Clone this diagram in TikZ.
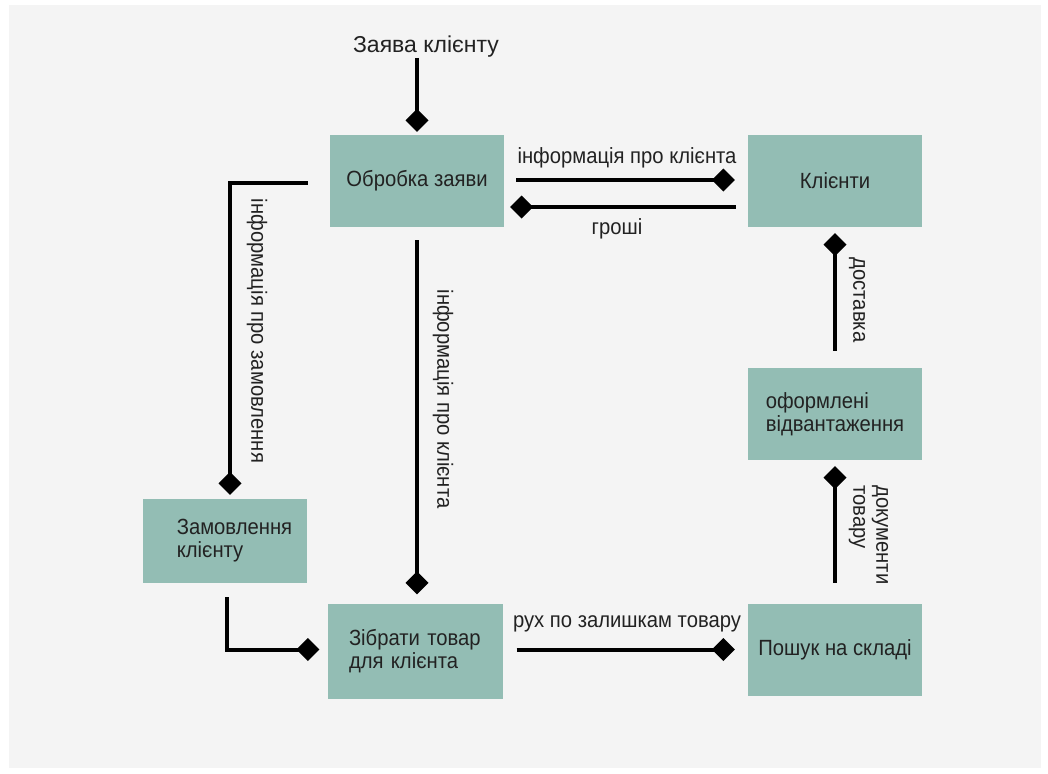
\documentclass[tikz,border=0pt]{standalone}
\usepackage{fontspec}
\setmainfont{Liberation Sans}[FakeStretch=0.92]
\newfontfamily\headfont{Liberation Sans}
\usetikzlibrary{arrows.meta,calc}

\definecolor{boxfill}{RGB}{147,189,180}
\definecolor{pagegray}{RGB}{244,244,244}
\definecolor{inkdark}{RGB}{34,34,34}

\begin{document}
\begin{tikzpicture}[x=1pt,y=-1pt,
  every node/.style={font=\fontsize{22}{23}\selectfont, text=inkdark},
  block/.style={fill=boxfill, draw=none, minimum width=174pt, minimum height=92pt, inner sep=0pt},
  lbl/.style={inner sep=0pt},
  flow/.style={line width=4pt, draw=black, -{Diamond[length=23pt,width=23pt]}}
]
% page background
\useasboundingbox (0,0) rectangle (1048,773);
\fill[white] (0,0) rectangle (1048,773);
\fill[pagegray] (9,5) rectangle (1041,768);

% process blocks
\node[block] (obr) at (417,181) {Обробка заяви};
\node[block] (kl) at (835,181) {Клієнти};
\node[block, align=left] (oform) at (835,414) {оформлені\\відвантаження};
\node[block] (posh) at (835,650) {Пошук на складі};
\node[block, minimum width=164pt, minimum height=84pt, align=left] (zam) at (225,541)
  {\hspace*{19pt}Замовлення\\\hspace*{19pt}клієнту};
\node[block, minimum width=175pt, minimum height=95pt, align=left, text width=132pt] (zib) at (415,651.5) {Зібрати товар\\для клієнта};

% incoming request
\node[lbl, font=\headfont\fontsize{23}{24}\selectfont] (zayava) at (426,47) {Заява клієнту};
\coordinate (zstart) at (417,58);

% connectors
\draw[flow] (zstart) -- ($(obr.north)+(0,-3)$);
\draw[flow] ($(obr.east)+(12,-1)$) -- ($(kl.west)+(-13,-1)$);
\draw[flow] ($(kl.west)+(-12,26)$) -- ($(obr.east)+(6,26)$);
\draw[flow] ($(obr.west)+(-22,2)$) -| ($(zam.north)+(5,-4)$);
\draw[flow] ($(obr.south)+(0,13)$) -- ($(obr.south |- zib.north)+(0,-9.5)$);
\draw[flow] ($(zam.south)+(2,14)$) |- ($(zib.west)+(-8,-2)$);
\draw[flow] ($(zib.east)+(14,-2)$) -- ($(posh.west |- zib.east)+(-13,-2)$);
\draw[flow] ($(posh.north)+(0,-21)$) -- ($(oform.south)+(0,6)$);
\draw[flow] ($(oform.north)+(0,-17)$) -- ($(kl.south)+(0,6)$);

% connector labels
\node[lbl] (l1) at (627,158) {інформація про клієнта};
\node[lbl] (l2) at (617,229) {гроші};
\node[lbl, rotate=-90] (l3) at (257,331) {інформація про замовлення};
\node[lbl, rotate=-90] (l4) at (443,399) {інформація про клієнта};
\node[lbl, rotate=-90] (l5) at (857,300) {доставка};
\node[lbl, rotate=-90, align=left] (l6) at (868.5,535) {документи\\товару};
\node[lbl] (l7) at (627,624) {рух по залишкам товару};
\end{tikzpicture}
\end{document}
